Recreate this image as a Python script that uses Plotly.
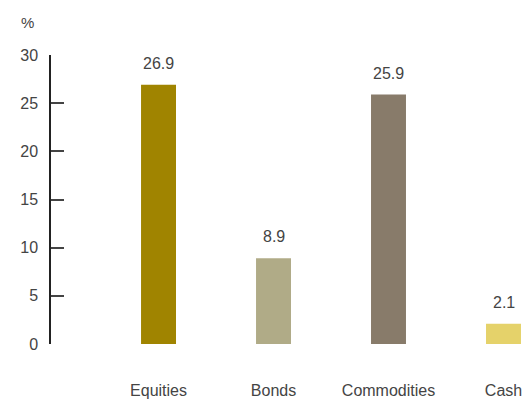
import plotly.graph_objects as go

# Asset class returns (%)
categories = ["Equities", "Bonds", "Commodities", "Cash"]
values = [26.9, 8.9, 25.9, 2.1]
bar_colors = ["#a08400", "#b0ab87", "#887b6a", "#e5d26a"]
y_ticks = [0, 5, 10, 15, 20, 25, 30]

FONT = "Liberation Sans"
TEXT_COLOR = "#444444"

fig = go.Figure()
fig.add_trace(go.Bar(
    x=categories,
    y=values,
    marker=dict(color=bar_colors, line=dict(width=0)),
    width=0.304,
    hoverinfo="x+y",
))

# Value labels above each bar
for cat, val in zip(categories, values):
    fig.add_annotation(
        x=cat, y=val, text=f"{val:.1f}", showarrow=False,
        yanchor="bottom", yshift=11,
        font=dict(family=FONT, size=16, color=TEXT_COLOR),
    )

# Unit label above the y axis
fig.add_annotation(
    x=-0.05, y=1.075, xref="paper", yref="paper", text="%", showarrow=False,
    xanchor="center", yanchor="bottom",
    font=dict(family=FONT, size=15, color=TEXT_COLOR),
)

fig.update_layout(
    width=525, height=399,
    margin=dict(l=51, r=0, t=55, b=52),
    paper_bgcolor="white", plot_bgcolor="white",
    showlegend=False,
    font=dict(family=FONT, size=16, color=TEXT_COLOR),
    xaxis=dict(
        range=[-0.935, 3.187],
        showline=False, showgrid=False, zeroline=False,
        ticks="", ticklabelstandoff=35,
        tickfont=dict(family=FONT, size=16, color=TEXT_COLOR),
    ),
    yaxis=dict(
        range=[0, 30],
        tickvals=y_ticks,
        showline=True, linecolor="#222222", linewidth=1.5,
        showgrid=False, zeroline=False,
        ticks="inside", ticklen=13, tickwidth=1.5, tickcolor="#444444",
        ticklabelstandoff=8,
        tickfont=dict(family=FONT, size=16, color=TEXT_COLOR),
    ),
)

fig.write_html("out.html")
